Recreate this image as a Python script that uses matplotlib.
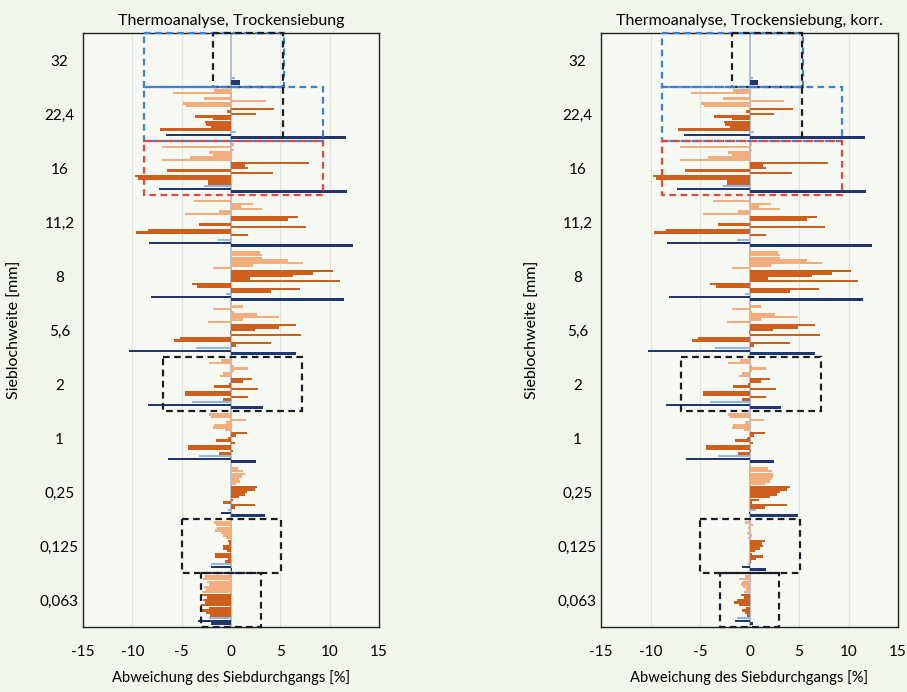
import numpy as np
import matplotlib
matplotlib.use('Agg')
import matplotlib.pyplot as plt
from matplotlib.patches import Rectangle

plt.rcParams['font.family'] = ['Lato', 'DejaVu Sans']

siebweiten = ['32', '22,4', '16', '11,2', '8', '5,6', '2', '1', '0,25', '0,125', '0,063']
x_ticks = [-15, -10, -5, 0, 5, 10, 15]

# Siebweiten 32 ... 1 sind in beiden Diagrammen gleich
hellorange_grob = [
    [0.0, 0.0, 0.0, 0.0, 0.0, 0.0, 0.0],
    [-1.7, -5.9, 0.0, -2.7, 3.5, -4.9, -4.6],
    [0.3, -7.0, 0.3, -2.2, -1.8, -4.2, -7.0],
    [0.0, -3.7, 2.2, 1.0, 3.1, -1.2, -4.7],
    [2.9, 3.1, 3.1, 5.8, 7.3, 2.2, -1.8],
    [1.2, -1.8, 0.3, 2.6, 4.9, 1.2, -2.3],
    [-1.0, -2.2, 0.3, 1.7, 0.3, -0.8, -1.1],
    [-2.2, -2.0, 1.5, -0.5, -1.7, -1.8, -0.6],
]
dunkelorange_grob = [
    [0.0, 0.0, 0.0, 0.0, 0.0, 0.0, 0.0, 0.0, 0.0],
    [4.4, -0.4, 2.5, -3.6, -1.8, -2.6, -2.5, -2.0, -7.2],
    [7.9, 1.4, 1.7, -6.5, 4.3, -9.7, -9.4, -2.3, -2.3],
    [6.8, 5.8, 0.0, -3.2, 7.6, -8.4, -9.6, 1.7, 0.0],
    [10.3, 8.3, 6.3, 1.9, 11.0, -4.0, -3.4, 7.0, 4.1],
    [6.6, 4.9, 2.4, -0.1, 7.1, -5.2, -5.8, 4.1, 0.5],
    [2.1, 1.2, -0.2, -1.7, 2.7, -4.7, -4.7, 1.7, -0.8],
    [1.6, 0.5, -0.3, -1.5, 0.4, -4.4, -4.4, 0.2, -1.2],
]
hellblau_grob = [0.4, 0.5, -2.7, -1.3, -0.5, -3.5, -4.0, -3.2]
dunkelblau1_grob = [0.9, -6.6, -7.3, -8.3, -8.1, -10.3, -8.4, -6.4]
dunkelblau2_grob = [0.9, 11.7, 11.8, 12.4, 11.5, 6.6, 3.2, 2.5]

# Feinanteile 0,25 / 0,125 / 0,063 - Trockensiebung
hellorange_fein_a = [
    [0.7, 1.2, 1.4, 1.1, 0.8, 0.9, 0.5],
    [-1.7, -1.5, -1.4, -1.6, -1.0, -0.8, -0.5],
    [-2.6, -2.8, -2.4, -2.2, -2.7, -2.5, -2.9],
]
dunkelorange_fein_a = [
    [2.6, 2.4, 1.6, 1.4, 0.8, 0.2, -0.8, 2.4, 0.4],
    [-0.3, -0.2, -0.8, -0.8, -0.4, -1.6, -1.6, -0.3, -0.6],
    [-3.0, -2.4, -2.8, -2.6, -3.0, -2.2, -2.9, -2.5, -2.1],
]
hellblau_fein_a = [-0.3, -2.0, -2.2]
dunkelblau1_fein_a = [-1.0, -2.0, -3.3]
dunkelblau2_fein_a = [3.4, 0.1, -2.0]

# Feinanteile - Trockensiebung, korr.
hellorange_fein_b = [
    [1.9, 2.3, 2.4, 2.4, 2.3, 2.1, 1.6],
    [-0.5, 0.4, -0.2, 0.2, -0.3, 0.3, -0.2],
    [-0.5, -1.1, -0.8, -0.9, -0.7, -0.4, -0.6],
]
dunkelorange_fein_b = [
    [4.1, 3.8, 3.1, 2.8, 2.1, 1.0, 0.3, 3.8, 1.6],
    [1.6, 1.3, 1.4, 1.1, 0.6, 0.3, 1.4, 0.7, 0.2],
    [-0.9, -0.6, -1.3, -1.6, -1.1, -0.4, -0.8, -0.5, -0.3],
]
hellblau_fein_b = [0.7, -0.2, -1.3]
dunkelblau1_fein_b = [-0.1, -0.8, -1.5]
dunkelblau2_fein_b = [4.9, 1.7, 0.4]

c_hellorange = '#f4ad7c'
c_dunkelorange = '#cf5f1c'
c_hellblau = '#8fb8e6'
c_dunkelblau = '#22376f'
c_blau_box = '#3d80d6'
c_rot_box = '#e2463c'
c_schwarz_box = '#1b1d26'


def zeichne(ax, titel, ho_fein, do_fein, hb_fein, db1_fein, db2_fein, ylabel_x):
    ho = np.array(hellorange_grob + ho_fein)
    do = np.array(dunkelorange_grob + do_fein)
    hb = np.array(hellblau_grob + hb_fein)
    db1 = np.array(dunkelblau1_grob + db1_fein)
    db2 = np.array(dunkelblau2_grob + db2_fein)
    werte = np.column_stack([ho, do, hb, db1, db2])
    farben = ([c_hellorange] * ho.shape[1] + [c_dunkelorange] * do.shape[1]
              + [c_hellblau, c_dunkelblau, c_dunkelblau])

    n_kat, n_reihen = werte.shape
    gruppe = 0.915
    schritt = gruppe / n_reihen
    basis = np.arange(n_kat) - gruppe / 2 + schritt / 2

    ax.set_facecolor('#f7faf3')
    for x in [-10, -5, 5, 10]:
        ax.axvline(x, color='#dfe4dc', lw=0.8, zorder=0)
    ax.axvline(0, color='#a8b3cc', lw=1.2, zorder=1)

    for k in range(n_reihen):
        ax.barh(basis + k * schritt, werte[:, k], height=schritt * 0.9,
                color=farben[k], zorder=2)

    # gestrichelte Markierungen
    strich = dict(fill=False, lw=1.6, linestyle=(0, (3, 2)), zorder=3, clip_on=False)
    kaesten = [
        (-8.8, 5.4, -0.5, 0.5, c_blau_box),
        (-1.8, 5.3, -0.5, 0.5, c_schwarz_box),
        (-8.8, 9.3, 0.5, 1.5, c_blau_box),
        (-8.8, 9.3, 1.5, 2.5, c_rot_box),
        (-6.9, 7.2, 5.5, 6.5, c_schwarz_box),
        (-5.0, 5.1, 8.5, 9.5, c_schwarz_box),
        (-3.0, 3.0, 9.5, 10.5, c_schwarz_box),
    ]
    for x0, x1, y0, y1, farbe in kaesten:
        ax.add_patch(Rectangle((x0, y0), x1 - x0, y1 - y0, edgecolor=farbe, **strich))
    ax.plot([5.3, 5.3], [0.5, 1.45], color=c_schwarz_box, lw=1.6,
            linestyle=(0, (3, 2)), zorder=3)

    ax.set_xlim(-15, 15)
    ax.set_ylim(n_kat - 0.5, -0.5)
    ax.set_xticks(x_ticks)
    ax.set_xticklabels([str(t) for t in x_ticks])
    ax.set_yticks(range(n_kat))
    ax.set_yticklabels(siebweiten)
    for lbl in ax.get_yticklabels():
        lbl.set_horizontalalignment('center')
    ax.tick_params(axis='y', length=0, pad=17, labelsize=11)
    ax.tick_params(axis='x', length=0, pad=13, labelsize=11)
    for s in ax.spines.values():
        s.set_color('#222222')
        s.set_linewidth(1.0)
    ax.set_title(titel, fontsize=11.5, pad=6)
    ax.set_xlabel('Abweichung des Siebdurchgangs [%]', fontsize=10.6, labelpad=8)
    ax.set_ylabel('Sieblochweite [mm]', fontsize=11.5)
    ax.yaxis.set_label_coords(ylabel_x, 0.5)


fig = plt.figure(figsize=(9.07, 6.92), dpi=100)
fig.patch.set_facecolor('#f1f6ec')
ax1 = fig.add_axes([83 / 907, 1 - 627 / 692, 296 / 907, 594 / 692])
ax2 = fig.add_axes([601 / 907, 1 - 627 / 692, 297 / 907, 594 / 692])

zeichne(ax1, 'Thermoanalyse, Trockensiebung',
        hellorange_fein_a, dunkelorange_fein_a, hellblau_fein_a,
        dunkelblau1_fein_a, dunkelblau2_fein_a, -0.205)
zeichne(ax2, 'Thermoanalyse, Trockensiebung, korr.',
        hellorange_fein_b, dunkelorange_fein_b, hellblau_fein_b,
        dunkelblau1_fein_b, dunkelblau2_fein_b, -0.205)

fig.savefig('out.png', dpi=100, facecolor=fig.get_facecolor())
